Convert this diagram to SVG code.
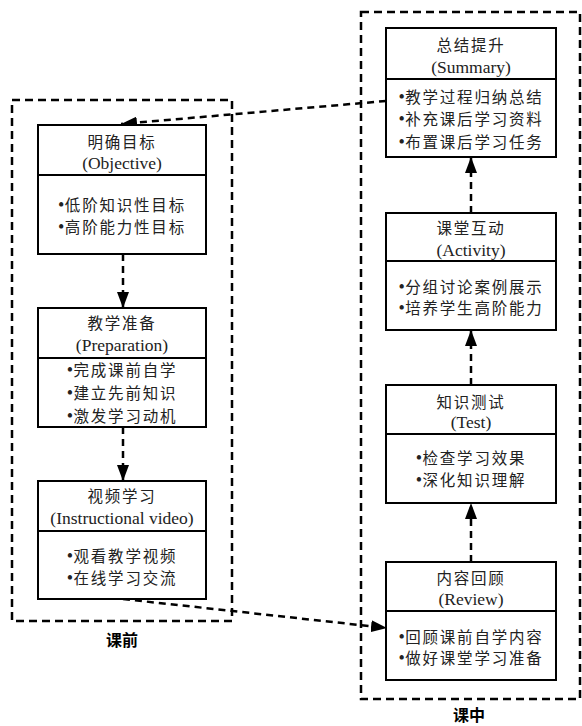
<svg xmlns="http://www.w3.org/2000/svg" width="582" height="726" viewBox="0 0 582 726">
<style>
.bg{fill:#fff}
.frame{fill:none;stroke:#000;stroke-width:2.5;stroke-dasharray:8,5}
.box{fill:#fff;stroke:#000;stroke-width:2}
.div{stroke:#000;stroke-width:2}
.zh{font-family:"Noto Sans CJK SC","Liberation Serif",serif;font-size:15.5px;letter-spacing:1.8px;fill:#222;text-anchor:middle}
.b{font-family:"Liberation Serif",serif;font-size:18px;letter-spacing:0.5px}
.en{font-family:"Liberation Serif",serif;font-size:17.5px;fill:#222;text-anchor:middle}
.lbl{font-family:"Noto Sans CJK SC",sans-serif;font-size:16px;font-weight:bold;fill:#000;text-anchor:middle}
.con{fill:none;stroke:#000;stroke-width:2.5;stroke-dasharray:7,5}
</style>
<defs>
<marker id="ah" markerUnits="userSpaceOnUse" markerWidth="16" markerHeight="12" refX="16" refY="6" orient="auto">
<path d="M0,0 L16,6 L0,12 z" fill="#000"/>
</marker>
</defs>
<rect class="bg" x="0" y="0" width="582" height="726"/>
<g id="frames">
<rect class="frame" x="12" y="100" width="220" height="521"/>
<text class="lbl" x="122" y="646">课前</text>
<rect class="frame" x="361" y="12" width="219" height="687"/>
<text class="lbl" x="469" y="721">课中</text>
</g>
<g id="connectors">
<line class="con" x1="123" y1="254" x2="123" y2="308" marker-end="url(#ah)"/>
<line class="con" x1="123" y1="427" x2="123" y2="481" marker-end="url(#ah)"/>
<line class="con" x1="123" y1="599" x2="387" y2="628" marker-end="url(#ah)"/>
<line class="con" x1="471" y1="562" x2="471" y2="503" marker-end="url(#ah)"/>
<line class="con" x1="471" y1="385" x2="471" y2="330" marker-end="url(#ah)"/>
<line class="con" x1="471" y1="213" x2="471" y2="157" marker-end="url(#ah)"/>
<line class="con" x1="386" y1="101" x2="121" y2="124" marker-end="url(#ah)"/>
</g>
<g id="objective">
<rect class="box" x="38" y="125" width="168" height="129"/>
<line class="div" x1="38" y1="175" x2="206" y2="175"/>
<text class="zh" x="122" y="147.5">明确目标</text>
<text class="en" x="122" y="168.5">(Objective)</text>
<text class="zh" x="122" y="210.5"><tspan class="b">•</tspan>低阶知识性目标</text>
<text class="zh" x="122" y="232.5"><tspan class="b">•</tspan>高阶能力性目标</text>
</g>
<g id="preparation">
<rect class="box" x="38" y="308" width="168" height="119"/>
<line class="div" x1="38" y1="358" x2="206" y2="358"/>
<text class="zh" x="122" y="328.5">教学准备</text>
<text class="en" x="122" y="350.5">(Preparation)</text>
<text class="zh" x="122" y="375.5"><tspan class="b">•</tspan>完成课前自学</text>
<text class="zh" x="122" y="399"><tspan class="b">•</tspan>建立先前知识</text>
<text class="zh" x="122" y="422"><tspan class="b">•</tspan>激发学习动机</text>
</g>
<g id="video">
<rect class="box" x="38" y="481" width="168" height="118"/>
<line class="div" x1="38" y1="531" x2="206" y2="531"/>
<text class="zh" x="122" y="501.5">视频学习</text>
<text class="en" x="122" y="524">(Instructional video)</text>
<text class="zh" x="122" y="561.5"><tspan class="b">•</tspan>观看教学视频</text>
<text class="zh" x="122" y="583.5"><tspan class="b">•</tspan>在线学习交流</text>
</g>
<g id="summary">
<rect class="box" x="386" y="28" width="170" height="129"/>
<line class="div" x1="386" y1="79" x2="556" y2="79"/>
<text class="zh" x="471" y="50.5">总结提升</text>
<text class="en" x="471" y="73">(Summary)</text>
<text class="zh" x="471" y="102.5"><tspan class="b">•</tspan>教学过程归纳总结</text>
<text class="zh" x="471" y="125"><tspan class="b">•</tspan>补充课后学习资料</text>
<text class="zh" x="471" y="148"><tspan class="b">•</tspan>布置课后学习任务</text>
</g>
<g id="activity">
<rect class="box" x="386" y="213" width="170" height="117"/>
<line class="div" x1="386" y1="261" x2="556" y2="261"/>
<text class="zh" x="471" y="233.5">课堂互动</text>
<text class="en" x="471" y="256">(Activity)</text>
<text class="zh" x="471" y="292.5"><tspan class="b">•</tspan>分组讨论案例展示</text>
<text class="zh" x="471" y="313.5"><tspan class="b">•</tspan>培养学生高阶能力</text>
</g>
<g id="test">
<rect class="box" x="386" y="385" width="170" height="118"/>
<line class="div" x1="386" y1="434" x2="556" y2="434"/>
<text class="zh" x="471" y="407.5">知识测试</text>
<text class="en" x="471" y="428">(Test)</text>
<text class="zh" x="471" y="463.5"><tspan class="b">•</tspan>检查学习效果</text>
<text class="zh" x="471" y="485.5"><tspan class="b">•</tspan>深化知识理解</text>
</g>
<g id="review">
<rect class="box" x="386" y="562" width="170" height="118"/>
<line class="div" x1="386" y1="611" x2="556" y2="611"/>
<text class="zh" x="471" y="583.5">内容回顾</text>
<text class="en" x="471" y="605">(Review)</text>
<text class="zh" x="471" y="642.5"><tspan class="b">•</tspan>回顾课前自学内容</text>
<text class="zh" x="471" y="663.5"><tspan class="b">•</tspan>做好课堂学习准备</text>
</g>
</svg>
